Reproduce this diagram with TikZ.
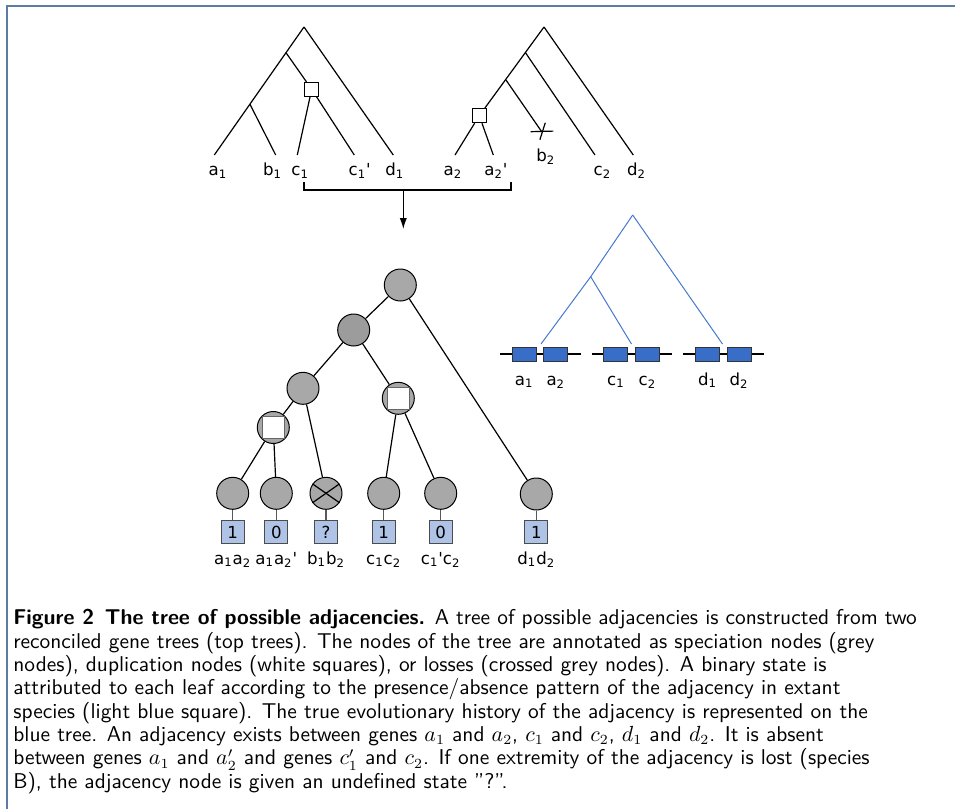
\documentclass[tikz,border=0pt]{standalone}
\usepackage{fontspec}
\newfontfamily\labelfont{DejaVu Sans}
\usetikzlibrary{arrows.meta}
\definecolor{nodegray}{RGB}{168,168,168}
\definecolor{innergray}{RGB}{156,156,156}
\definecolor{statefill}{RGB}{174,195,230}
\definecolor{genefill}{RGB}{56,110,200}
\definecolor{treeblue}{RGB}{70,120,205}
\definecolor{framecol}{RGB}{92,124,165}
\tikzset{gline/.style={line width=0.6pt}}

\begin{document}
\begin{tikzpicture}[x=0.5pt,y=-0.5pt]
  \tikzset{lbl/.style={font=\labelfont\fontsize{8.3}{10}\selectfont,inner sep=0pt}}
  \tikzset{dupsq/.style={draw=black,fill=white,minimum size=7pt,inner sep=0pt,line width=0.5pt}}
  \tikzset{spec/.style={circle,draw=black,fill=nodegray,minimum size=16pt,inner sep=0pt,line width=0.5pt}}
  \tikzset{dupin/.style={draw=gray!80!black,fill=white,minimum size=10.8pt,inner sep=0pt,line width=0.5pt}}
  \tikzset{statebox/.style={draw=gray!60!black,fill=statefill,minimum size=11.5pt,inner sep=0pt,line width=0.6pt,font=\labelfont\fontsize{8.3}{10}\selectfont}}
  \tikzset{genebox/.style={draw=black!80,fill=genefill,minimum width=12pt,minimum height=7pt,inner sep=0pt,line width=0.5pt}}

  \useasboundingbox (0,0) rectangle (955,809);
  \draw[framecol,line width=1pt] (6.5,809) -- (6.5,5.5) -- (955,5.5);

  % first gene tree
  \coordinate (r1) at (304,27);
  \coordinate (u1) at (286,52.7);
  \coordinate (v1) at (250,104.3);
  \node[dupsq] (s1) at (311.7,89.3) {};
  \coordinate (a1) at (214.3,155);
  \coordinate (b1) at (275.7,155);
  \coordinate (c1) at (297.3,155);
  \coordinate (c1p) at (354.3,155);
  \coordinate (d1) at (393.3,155);
  \draw[gline] (r1) -- (a1);
  \draw[gline] (v1) -- (b1);
  \draw[gline] (u1) -- (s1);
  \draw[gline] (s1) -- (c1);
  \draw[gline] (s1) -- (c1p);
  \draw[gline] (r1) -- (d1);
  \node[lbl,anchor=base west] (la1) at (208.3,175.5) {a\textsubscript{1}};
  \node[lbl,anchor=base west] (lb1) at (262.7,175.5) {b\textsubscript{1}};
  \node[lbl,anchor=base west] (lc1) at (291,175.5) {c\textsubscript{1}};
  \node[lbl,anchor=base west] (lc1p) at (348.3,175.5) {c\textsubscript{1}\textquotesingle};
  \node[lbl,anchor=base west] (ld1) at (385,175.5) {d\textsubscript{1}};

  % second gene tree
  \coordinate (r2) at (544,27);
  \coordinate (u2) at (525.5,52.7);
  \coordinate (w2) at (506,80);
  \node[dupsq] (s2) at (479.3,115.7) {};
  \coordinate (a2) at (455,155);
  \coordinate (a2p) at (493.3,155);
  \coordinate (x2) at (541.7,131.7);
  \coordinate (c2) at (595,155);
  \coordinate (d2) at (633.3,155);
  \draw[gline] (r2) -- (s2);
  \draw[gline] (s2) -- (a2);
  \draw[gline] (s2) -- (a2p);
  \draw[gline] (w2) -- (x2);
  \draw[gline] (u2) -- (c2);
  \draw[gline] (r2) -- (d2);
  \draw[gline] ([xshift=-5.5pt]x2) -- ([xshift=5.8pt,yshift=0.3pt]x2);
  \draw[gline] ([xshift=1.8pt,yshift=4.5pt]x2) -- ([xshift=-0.9pt,yshift=-4pt]x2);
  \node[lbl,anchor=base west] (la2) at (443.3,175.5) {a\textsubscript{2}};
  \node[lbl,anchor=base west] (la2p) at (484,175.5) {a\textsubscript{2}\textquotesingle};
  \node[lbl,anchor=base west] (lb2) at (536,161.7) {b\textsubscript{2}};
  \node[lbl,anchor=base west] (lc2) at (593.3,175.5) {c\textsubscript{2}};
  \node[lbl,anchor=base west] (ld2) at (626.7,175.5) {d\textsubscript{2}};

  % bracket and arrow
  \coordinate (brl) at (304,182);
  \coordinate (brr) at (511,182);
  \coordinate (brm) at (403.3,190);
  \coordinate (arr) at (403.3,229);
  \draw[gline] (brl) -- ++(0,8) -| (brr);
  \draw[gline,-{Latex[length=5.5pt,width=3.6pt]}] (brm) -- (arr);

  % tree of adjacencies
  \node[spec] (n1) at (400.3,285) {};
  \node[spec,fill=innergray] (n2) at (353.7,330) {};
  \node[spec] (n3) at (303,388.3) {};
  \node[spec] (n4) at (273.3,427.5) {};
  \node[dupin] at (n4) {};
  \node[spec] (n5) at (398.3,398.3) {};
  \node[dupin] at (n5) {};
  \node[spec] (l1) at (232.7,493.3) {};
  \node[spec] (l2) at (276.3,493.3) {};
  \node[spec] (l3) at (326,493.3) {};
  \node[spec] (l4) at (383.7,493.3) {};
  \node[spec] (l5) at (440.7,493.3) {};
  \node[spec] (l6) at (536.3,494) {};
  \draw[gline] (l3.145) -- (l3.-35);
  \draw[gline] (l3.35) -- (l3.-145);
  \draw[gline] (n1) -- (n2);
  \draw[gline] (n1) -- (l6);
  \draw[gline] (n2) -- (n3);
  \draw[gline] (n2) -- (n5);
  \draw[gline] (n3) -- (n4);
  \draw[gline] (n3) -- (l3);
  \draw[gline] (n4) -- (l1);
  \draw[gline] (n4) -- (l2);
  \draw[gline] (n5) -- (l4);
  \draw[gline] (n5) -- (l5);

  % leaf states
  \foreach \i/\s/\t in {1/1/{a\textsubscript{1}a\textsubscript{2}},
      2/0/{a\textsubscript{1}a\textsubscript{2}\textquotesingle},
      3/?/{b\textsubscript{1}b\textsubscript{2}},
      4/1/{c\textsubscript{1}c\textsubscript{2}},
      5/0/{c\textsubscript{1}\textquotesingle c\textsubscript{2}},
      6/1/{d\textsubscript{1}d\textsubscript{2}}} {
    \node[statebox] (st\i) at (l\i |- 0,532) {\s};
    \draw[gline,gray!70!black] (l\i) -- (st\i);
    \node[lbl,anchor=base] (sl\i) at (st\i |- 0,564) {\t};
  }

  % blue tree and gene pairs
  \coordinate (bt) at (632.7,215);
  \coordinate (bn) at (590.7,276.7);
  \coordinate (ba) at (541,344);
  \coordinate (bc) at (631.5,344);
  \coordinate (bd) at (722.5,344);
  \draw[treeblue,line width=0.5pt] (bt) -- (bn) -- (ba);
  \draw[treeblue,line width=0.5pt] (bn) -- (bc);
  \draw[treeblue,line width=0.5pt] (bt) -- (bd);
  \foreach \x/\p/\q in {500/a/1,591.7/c/2,683.3/d/3} {
    \draw[gline] (\x,354) -- ++(80.7,0);
    \node[genebox] (g\q a) at (\x+24.2,354) {};
    \node[genebox] (g\q b) at (\x+55.8,354) {};
    \node[lbl,anchor=base] (gl\q a) at (g\q a |- 0,385) {\p\textsubscript{1}};
    \node[lbl,anchor=base] (gl\q b) at (g\q b |- 0,385) {\p\textsubscript{2}};
  }

  % caption
  \node[anchor=base west,align=left,inner sep=0pt,font=\sffamily\fontsize{10.7}{11.67}\selectfont] (cap) at (13,788.3) {%
    \textbf{Figure 2\hspace{0.5em}The tree of possible adjacencies.} A tree of possible adjacencies is constructed from two\\
    reconciled gene trees (top trees). The nodes of the tree are annotated as speciation nodes (grey\\
    nodes), duplication nodes (white squares), or losses (crossed grey nodes). A binary state is\\
    attributed to each leaf according to the presence/absence pattern of the adjacency in extant\\
    species (light blue square). The true evolutionary history of the adjacency is represented on the\\
    blue tree. An adjacency exists between genes $a_1$ and $a_2$, $c_1$ and $c_2$, $d_1$ and $d_2$. It is absent\\
    between genes $a_1$ and $a'_2$ and genes $c'_1$ and $c_2$. If one extremity of the adjacency is lost (species\\
    B), the adjacency node is given an undefined state "?".};
\end{tikzpicture}
\end{document}
